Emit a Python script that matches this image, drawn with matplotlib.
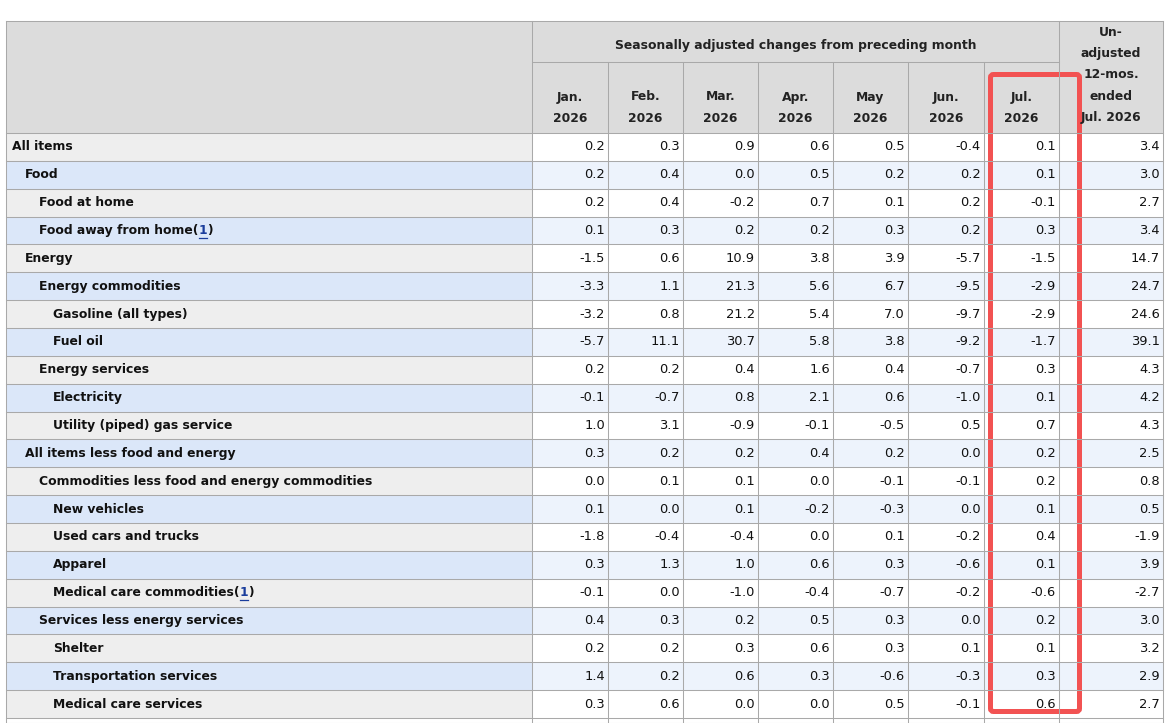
import matplotlib
matplotlib.use("Agg")
import matplotlib.pyplot as plt
from matplotlib.patches import Rectangle, FancyBboxPatch

plt.rcParams['font.family'] = ['DejaVu Sans', 'Noto Sans CJK SC']

items = ["All items", "Food", "Food at home", "Food away from home", "Energy",
         "Energy commodities", "Gasoline (all types)", "Fuel oil", "Energy services",
         "Electricity", "Utility (piped) gas service", "All items less food and energy",
         "Commodities less food and energy commodities", "New vehicles",
         "Used cars and trucks", "Apparel", "Medical care commodities",
         "Services less energy services", "Shelter", "Transportation services",
         "Medical care services"]
levels = [0, 1, 2, 2, 1, 2, 3, 3, 2, 3, 3, 1, 2, 3, 3, 3, 3, 2, 3, 3, 3]
footnote = [False, False, False, True, False, False, False, False, False, False, False,
            False, False, False, False, False, True, False, False, False, False]

months = ["Jan.\n2026", "Feb.\n2026", "Mar.\n2026", "Apr.\n2026", "May\n2026",
          "Jun.\n2026", "Jul.\n2026"]
jan = [0.2, 0.2, 0.2, 0.1, -1.5, -3.3, -3.2, -5.7, 0.2, -0.1, 1.0, 0.3, 0.0, 0.1, -1.8, 0.3, -0.1, 0.4, 0.2, 1.4, 0.3]
feb = [0.3, 0.4, 0.4, 0.3, 0.6, 1.1, 0.8, 11.1, 0.2, -0.7, 3.1, 0.2, 0.1, 0.0, -0.4, 1.3, 0.0, 0.3, 0.2, 0.2, 0.6]
mar = [0.9, 0.0, -0.2, 0.2, 10.9, 21.3, 21.2, 30.7, 0.4, 0.8, -0.9, 0.2, 0.1, 0.1, -0.4, 1.0, -1.0, 0.2, 0.3, 0.6, 0.0]
apr = [0.6, 0.5, 0.7, 0.2, 3.8, 5.6, 5.4, 5.8, 1.6, 2.1, -0.1, 0.4, 0.0, -0.2, 0.0, 0.6, -0.4, 0.5, 0.6, 0.3, 0.0]
may = [0.5, 0.2, 0.1, 0.3, 3.9, 6.7, 7.0, 3.8, 0.4, 0.6, -0.5, 0.2, -0.1, -0.3, 0.1, 0.3, -0.7, 0.3, 0.3, -0.6, 0.5]
jun = [-0.4, 0.2, 0.2, 0.2, -5.7, -9.5, -9.7, -9.2, -0.7, -1.0, 0.5, 0.0, -0.1, 0.0, -0.2, -0.6, -0.2, 0.0, 0.1, -0.3, -0.1]
jul = [0.1, 0.1, -0.1, 0.3, -1.5, -2.9, -2.9, -1.7, 0.3, 0.1, 0.7, 0.2, 0.2, 0.1, 0.4, 0.1, -0.6, 0.2, 0.1, 0.3, 0.6]
yoy = [3.4, 3.0, 2.7, 3.4, 14.7, 24.7, 24.6, 39.1, 4.3, 4.2, 4.3, 2.5, 0.8, 0.5, -1.9, 3.9, -2.7, 3.0, 3.2, 2.9, 2.7]
series = [jan, feb, mar, apr, may, jun, jul, yoy]

W, H = 1169, 723
fig = plt.figure(figsize=(W / 100, H / 100), dpi=100)
ax = fig.add_axes([0, 0, 1, 1])
ax.set_xlim(0, W)
ax.set_ylim(H, 0)
ax.axis('off')

FS = 9.4
FSB = 8.95
grid = '#a9a9a9'
hdr_bg = '#dcdcdc'
lab_bg = ['#eeeeee', '#dbe7f9']
dat_bg = ['#ffffff', '#edf3fc']

x_left = 6
col_x = [532, 608, 683, 758, 833, 908, 984, 1059, 1163]
y_top, y_h1, y_h2 = 21, 62, 133
row_h = (718 - 133) / len(items)

# header background
ax.add_patch(Rectangle((x_left, y_top), col_x[-1] - x_left, y_h2 - y_top,
                       facecolor=hdr_bg, edgecolor='none'))

# body backgrounds
for i in range(len(items)):
    y0 = y_h2 + i * row_h
    k = i % 2
    ax.add_patch(Rectangle((x_left, y0), col_x[0] - x_left, row_h,
                           facecolor=lab_bg[k], edgecolor='none'))
    ax.add_patch(Rectangle((col_x[0], y0), col_x[-1] - col_x[0], row_h,
                           facecolor=dat_bg[k], edgecolor='none'))

lw = 0.75
# horizontal lines
ax.plot([x_left, col_x[-1]], [y_top, y_top], color=grid, lw=lw)
ax.plot([col_x[0], col_x[-2]], [y_h1, y_h1], color=grid, lw=lw)
for i in range(len(items) + 1):
    y = y_h2 + i * row_h
    ax.plot([x_left, col_x[-1]], [y, y], color=grid, lw=lw)
ax.plot([x_left, col_x[-1]], [H, H], color=grid, lw=lw)
# vertical lines
ax.plot([x_left, x_left], [y_top, H], color=grid, lw=lw)
ax.plot([col_x[0], col_x[0]], [y_top, H], color=grid, lw=lw)
for x in col_x[1:-2]:
    ax.plot([x, x], [y_h1, H], color=grid, lw=lw)
ax.plot([col_x[-2], col_x[-2]], [y_top, H], color=grid, lw=lw)
ax.plot([col_x[-1], col_x[-1]], [y_top, H], color=grid, lw=lw)

# header texts
ax.text((col_x[0] + col_x[-2]) / 2, 46, "Seasonally adjusted changes from preceding month",
        ha='center', va='center', fontsize=FSB, fontweight='bold', color='#222222')
for j, m in enumerate(months):
    cx = (col_x[j] + col_x[j + 1]) / 2
    a, b = m.split("\n")
    ax.text(cx, 97, a, ha='center', va='center', fontsize=FSB, fontweight='bold', color='#222222')
    ax.text(cx, 118, b, ha='center', va='center', fontsize=FSB, fontweight='bold', color='#222222')
cx = (col_x[-2] + col_x[-1]) / 2
for t, yy in zip(["Un-", "adjusted", "12-mos.", "ended", "Jul. 2026"], [33, 54, 75, 96, 118]):
    ax.text(cx, yy, t, ha='center', va='center', fontsize=FSB, fontweight='bold', color='#222222')

fig.canvas.draw()
renderer = fig.canvas.get_renderer()
inv = ax.transData.inverted()

indent = [12, 25, 39, 53]
for i, name in enumerate(items):
    yc = y_h2 + (i + 0.5) * row_h
    t = ax.text(indent[levels[i]], yc, name + ("(" if footnote[i] else ""),
                ha='left', va='center', fontsize=FSB, fontweight='bold', color='#111111')
    if footnote[i]:
        bb = t.get_window_extent(renderer)
        xe = inv.transform((bb.x1, bb.y0))[0]
        t2 = ax.text(xe, yc, "1", ha='left', va='center', fontsize=FSB,
                     fontweight='bold', color='#1a3d9c')
        bb2 = t2.get_window_extent(renderer)
        xe2 = inv.transform((bb2.x1, bb2.y0))[0]
        ax.plot([xe + 0.5, xe2 - 0.5], [yc + 7, yc + 7], color='#1a3d9c', lw=0.9)
        ax.text(xe2, yc, ")", ha='left', va='center', fontsize=FSB,
                fontweight='bold', color='#111111')
    for j, s in enumerate(series):
        ax.text(col_x[j + 1] - 3, yc, f"{s[i]:.1f}", ha='right', va='center',
                fontsize=FS, color='#111111')

# red highlight box
ax.add_patch(FancyBboxPatch((990.5, 74.5), 89, 637,
                            boxstyle="round,pad=0,rounding_size=3",
                            facecolor='none', edgecolor='#f25252', lw=5 * 0.72))

fig.savefig("out.png", dpi=100)
